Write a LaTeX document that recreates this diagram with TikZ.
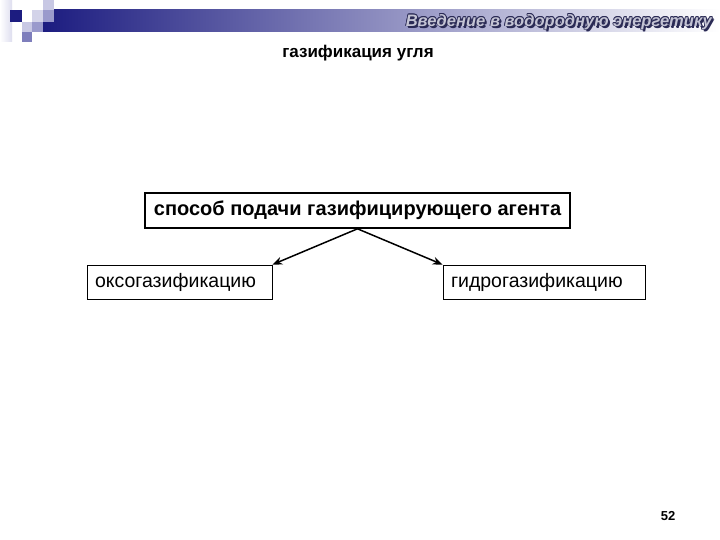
\documentclass[tikz,border=0pt]{standalone}
\usepackage{fontspec}
\setmainfont{Liberation Sans}
\usetikzlibrary{arrows.meta}
\definecolor{navy}{HTML}{1C1C80}
\definecolor{sqA}{HTML}{C8C8E4}
\definecolor{sqB}{HTML}{9A9ACC}
\definecolor{sqC}{HTML}{7E7EBC}
\definecolor{midbar}{HTML}{8E8EAE}
\definecolor{ttlfill}{HTML}{C4C4D4}
\definecolor{ttlline}{HTML}{2A2A55}
\newcommand{\ttltext}{\resizebox{306pt}{!}{\fontsize{20}{22}\selectfont\bfseries\itshape Введение в водородную энергетику}}
\begin{document}
\begin{tikzpicture}[x=1pt,y=-1pt,
  topbox/.style={draw,line width=1.6pt,inner sep=0pt,minimum width=425pt,minimum height=35pt,font=\fontsize{20}{22}\selectfont\bfseries},
  subbox/.style={draw,line width=0.8pt,inner xsep=8pt,inner ysep=0pt,minimum height=34pt,align=left,font=\fontsize{19.5}{21}\selectfont},
  arr/.style={line width=1.5pt,-{Stealth[length=10pt,width=8pt]}},
  ttl/.style={inner sep=0pt,anchor=east}]
\useasboundingbox (0,0) rectangle (720,540);
\fill[white] (0,0) rectangle (720,540);
% header decoration
\shade[left color=white,right color=sqA!60] (0,0) rectangle (12,42);
\shade[left color=navy,middle color=midbar,right color=white] (43,10) rectangle (720,32);
\fill[sqA] (43,0) rectangle (54,10);
\fill[navy] (10,10) rectangle (22,22);
\fill[sqA!80] (32,10) rectangle (43,22);
\fill[sqB] (43,10) rectangle (54,22);
\fill[sqA] (22,22) rectangle (32,32);
\fill[sqB] (32,22) rectangle (43,32);
\fill[sqC] (22,32) rectangle (32,42);
% header title with outline
\foreach \dx/\dy in {2/2,1.5/1.5,0.7/0,-0.7/0,0/0.7,0/-0.7,0.5/0.5,-0.5/-0.5,0.5/-0.5,-0.5/0.5}
  \node[ttl,text=ttlline] at (712+\dx,22+\dy) {\ttltext};
\node[ttl,text=ttlfill] (title) at (712,22) {\ttltext};
% subtitle
\node[font=\fontsize{17}{19}\selectfont\bfseries] (sub) at (358,53) {газификация угля};
% diagram
\node[topbox] (top) at (357.5,210.5) {способ подачи газифицирующего агента};
\node[subbox,text width=169pt] (left) at (179.5,282) {оксогазификацию};
\node[subbox,text width=186pt] (right) at (544,282) {гидрогазификацию};
\draw[arr] (top.south) -- (left.north east);
\draw[arr] (top.south) -- (right.north west);
% page number
\node[font=\fontsize{13}{15}\selectfont\bfseries] (pg) at (668,516) {52};
\end{tikzpicture}
\end{document}
